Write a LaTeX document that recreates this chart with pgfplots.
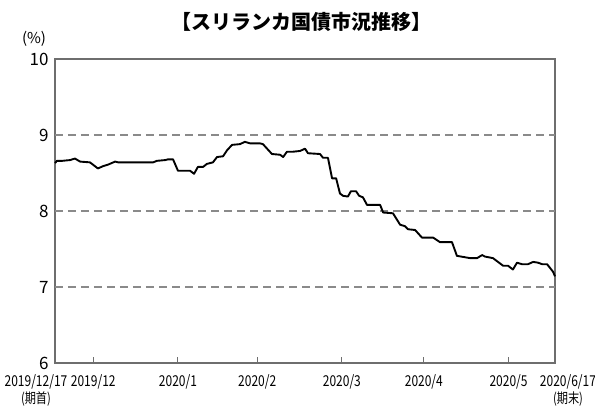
\documentclass[border=0pt]{standalone}
\usepackage{fontspec}
\setmainfont{Noto Sans CJK JP}
\newfontfamily\narrowfont[FakeStretch=0.8]{Noto Sans CJK JP}
\usepackage{pgfplots}
\pgfplotsset{compat=1.18}
\usepackage{pgfplotstable}
\definecolor{axgray}{HTML}{6E6E6E}
\definecolor{gridgray}{HTML}{8A8A8A}
\pgfplotstableread{
d v
0 8.63
0.7 8.66
2.6 8.66
5.5 8.67
7.3 8.69
9.2 8.65
12.8 8.64
15.7 8.56
17.6 8.59
19.4 8.61
22.0 8.65
23.1 8.64
27.5 8.64
35.9 8.64
37.3 8.66
40.3 8.67
41.4 8.68
43.2 8.68
45.0 8.53
49.4 8.53
50.9 8.49
52.3 8.58
54.2 8.58
55.6 8.62
57.8 8.64
59.3 8.71
61.5 8.72
63.0 8.80
64.8 8.87
67.7 8.88
69.5 8.91
71.4 8.89
75.0 8.89
76.1 8.88
79.4 8.75
82.4 8.74
83.5 8.71
84.9 8.78
87.1 8.78
89.7 8.79
91.5 8.82
92.6 8.76
97.0 8.75
98.1 8.70
99.9 8.70
101.4 8.43
102.9 8.43
104.3 8.23
105.4 8.20
107.2 8.19
108.3 8.26
110.2 8.26
111.3 8.20
112.7 8.18
114.2 8.08
119.0 8.08
120.1 7.98
123.7 7.97
126.3 7.82
128.1 7.80
129.2 7.76
131.8 7.75
134.3 7.65
138.4 7.65
140.9 7.59
145.3 7.59
147.1 7.41
151.9 7.38
154.5 7.38
156.3 7.42
157.4 7.40
160.3 7.38
164.0 7.28
165.8 7.28
167.6 7.23
169.1 7.32
170.9 7.30
173.1 7.30
175.0 7.33
176.8 7.32
178.3 7.30
180.1 7.30
181.2 7.25
182.3 7.20
183 7.14
}\yielddata
\begin{document}
\begin{tikzpicture}
\useasboundingbox (-55bp,-44bp) rectangle (540bp,363bp);
\begin{axis}[
  scale only axis,
  width=500bp, height=304bp,
  xmin=0, xmax=183, ymin=6, ymax=10,
  axis line style={axgray, line width=1.1pt},
  every tick/.style={axgray, line width=1pt},
  tick align=inside,
  xtick pos=bottom, ytick pos=left,
  major tick length=6bp,
  xtick={14,45,74,105,135,166},
  xticklabels={2019/12,2020/1,2020/2,2020/3,2020/4,2020/5},
  xticklabel style={font=\narrowfont\fontsize{15bp}{15bp}\selectfont, yshift=-8bp},
  ytick={6,7,8,9,10},
  yticklabel style={font=\fontsize{17bp}{17bp}\selectfont, xshift=-3bp},
  /pgf/number format/assume math mode=true,
  extra y ticks={7,8,9},
  extra y tick labels={},
  extra y tick style={grid=major, major tick length=0pt},
  grid style={gridgray, line width=1.2pt, dash pattern=on 8bp off 5bp},
  clip=false,
]
\addplot[black, line width=1.9pt, line join=round] table[x=d, y=v] {\yielddata};
\end{axis}
\node[font=\bfseries\fontsize{20bp}{20bp}\selectfont] at (246bp,341bp) {【スリランカ国債市況推移】};
\node[font=\fontsize{15bp}{15bp}\selectfont] at (-21bp,324bp) {(\%)};
\node[font=\narrowfont\fontsize{15bp}{15bp}\selectfont] at (-19bp,-19bp) {2019/12/17};
\node[font=\narrowfont\fontsize{14bp}{14bp}\selectfont] at (-19bp,-35.5bp) {(期首)};
\node[font=\narrowfont\fontsize{15bp}{15bp}\selectfont] at (513bp,-19bp) {2020/6/17};
\node[font=\narrowfont\fontsize{14bp}{14bp}\selectfont] at (513bp,-35.5bp) {(期末)};
\end{tikzpicture}
\end{document}
